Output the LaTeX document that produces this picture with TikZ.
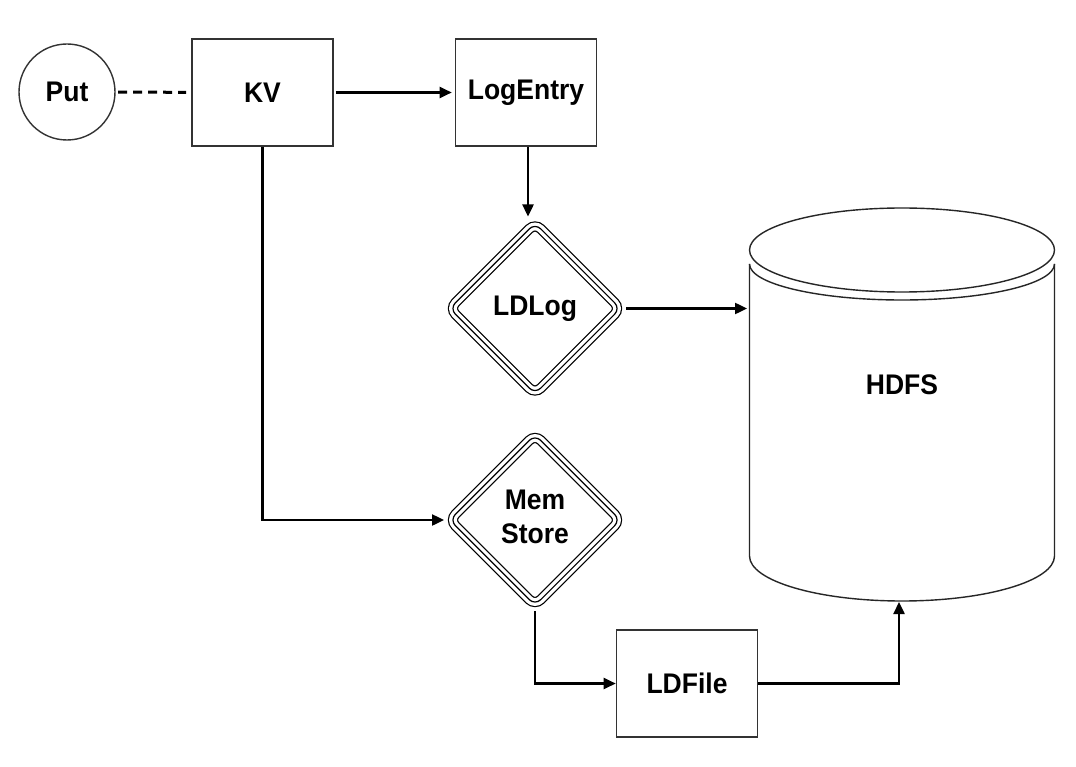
\documentclass[tikz,border=0pt]{standalone}
\usepackage{fontspec}
\usepackage{graphicx}
\setmainfont{Liberation Sans}
\usetikzlibrary{shapes.geometric,arrows.meta}
\newcommand{\tallt}[1]{\scalebox{1}[1.07]{#1}}
\begin{document}
\begin{tikzpicture}[x=1pt,y=-1pt,
  lbl/.style={font=\fontsize{26.5}{31.5}\selectfont\bfseries, text=black},
  box/.style={lbl, draw=black!80, line width=1.6pt, minimum width=141pt, minimum height=107pt, inner sep=0pt},
  tri/.style={lbl, diamond, draw=black, line width=1.2pt, rounded corners=8pt,
    minimum width=174pt, minimum height=174pt, inner sep=0pt, outer sep=4pt, align=center,
    preaction={draw=black, line width=10.2pt},
    preaction={draw=white, line width=7.8pt}},
  arr/.style={line width=2.4pt, -{Triangle[length=12pt,width=11pt]}},
  cyl/.style={draw=black!85, line width=1.4pt},
]
\useasboundingbox (0,0) rectangle (1076,767);
\fill[white] (0,0) rectangle (1076,767);

% nodes
\node[lbl, circle, draw=black!80, line width=1.4pt, minimum size=96pt, inner sep=0pt] (put) at (67,92) {\tallt{Put}};
\node[box] (kv) at (262.5,92.5) {\tallt{KV}};
\node[box] (le) at (526,92.5) {\tallt{LogEntry}};
\node[tri] (ldlog) at (535,308.5) {\tallt{LDLog}};
\node[tri] (mem) at (535,520) {\raisebox{-3pt}{\tallt{\begin{tabular}{@{}c@{}}Mem\\Store\end{tabular}}}};
\node[box] (ldfile) at (687,683.5) {\tallt{LDFile}};

% HDFS cylinder
\draw[cyl] (902,250) ellipse [x radius=152.5, y radius=42];
\draw[cyl] (749.5,264) .. controls (749.5,283.88) and (817.78,300) .. (902,300)
  .. controls (986.22,300) and (1054.5,283.88) .. (1054.5,264);
\draw[cyl] (749.5,264) -- (749.5,556)
  .. controls (749.5,580.85) and (817.78,601) .. (902,601)
  .. controls (986.22,601) and (1054.5,580.85) .. (1054.5,556) -- (1054.5,264);
\node[lbl] (hdfs) at (902,385) {\tallt{HDFS}};
\coordinate (hdfsW) at (747,308.5);
\coordinate (hdfsS) at (899,602);

% connectors
\draw[line width=3pt, dash pattern=on 9pt off 6pt, shorten <=2.5pt, shorten >=5pt] (put) -- (kv);
\draw[arr, shorten <=2pt, shorten >=3pt] (kv) -- (le);
\draw[arr, shorten >=1pt] ([xshift=2pt]le.south) -- ([xshift=2pt]le.south |- ldlog.north);
\draw[arr] (ldlog) -- (hdfsW);
\draw[arr] (kv.south) |- (mem.west);
\draw[arr] (mem.south) |- (ldfile.west);
\draw[arr] (ldfile.east) -| (hdfsS);
\end{tikzpicture}
\end{document}
